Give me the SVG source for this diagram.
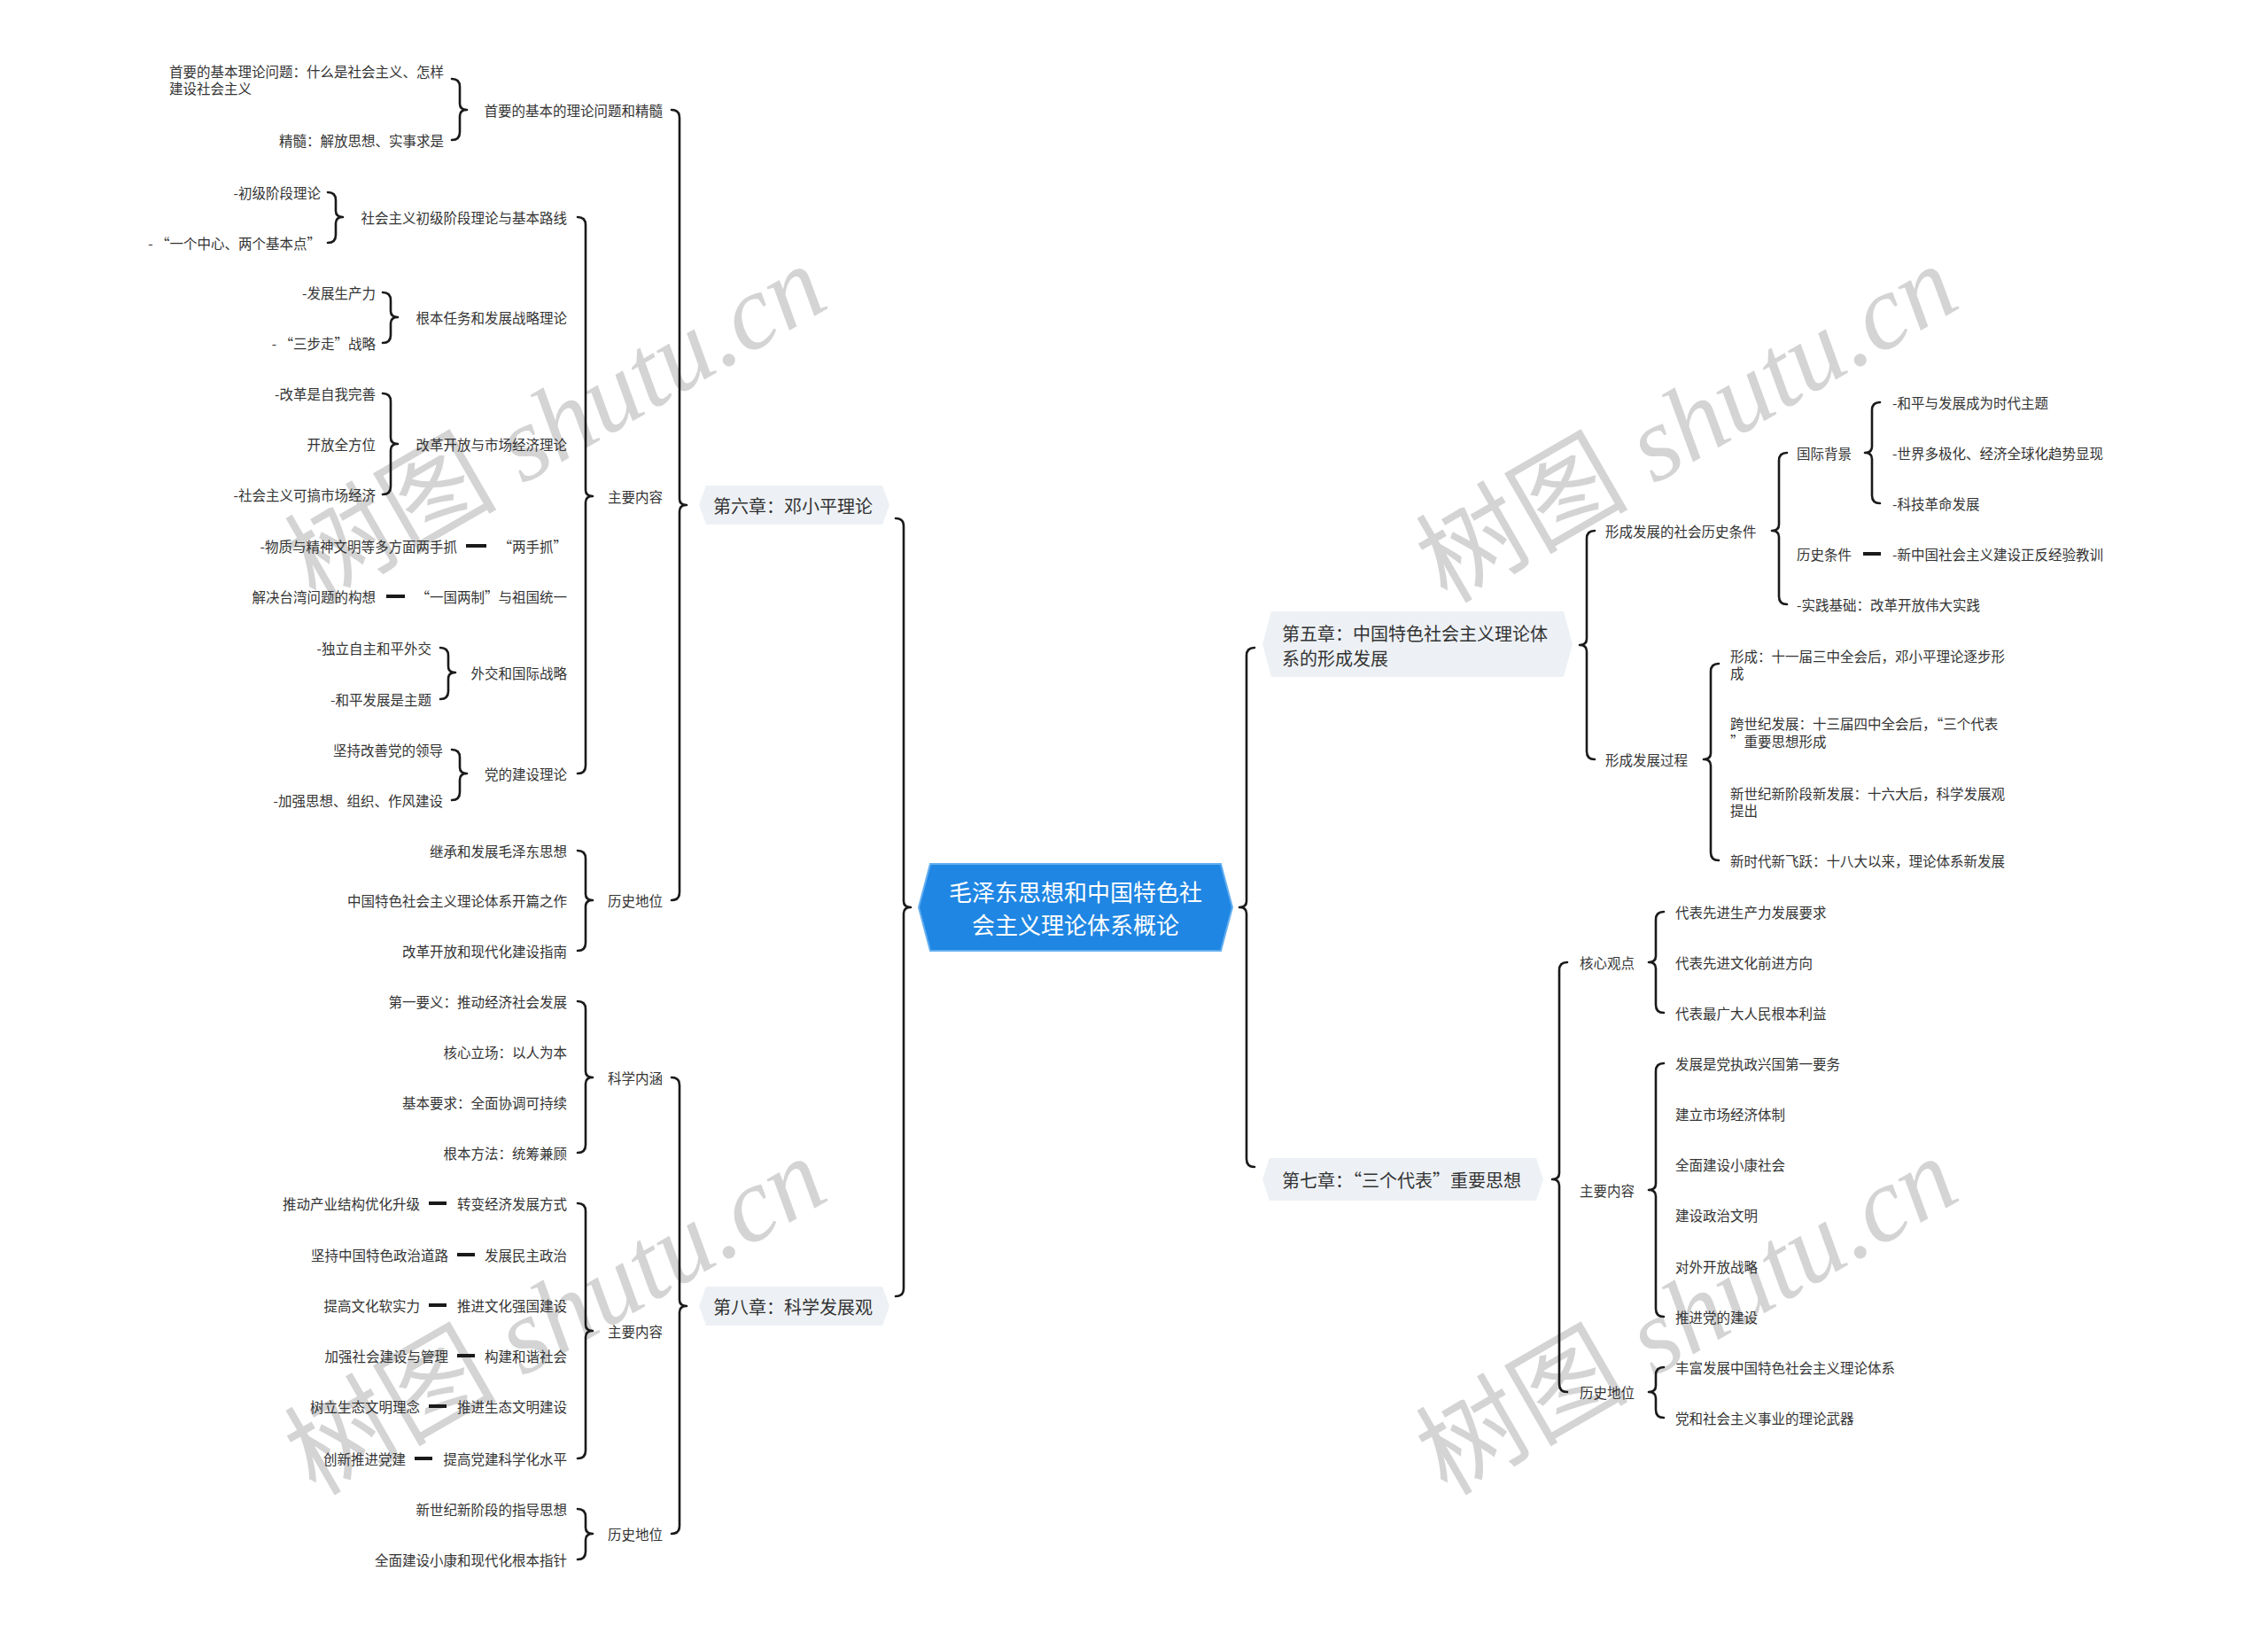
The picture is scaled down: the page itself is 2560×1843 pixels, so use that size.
<svg xmlns="http://www.w3.org/2000/svg" width="2560" height="1843" viewBox="0 0 2560 1843">
<style>
.t{font-family:"Noto Sans CJK SC","Noto Sans",sans-serif;font-size:15.5px;fill:#333;dominant-baseline:central}
.e{text-anchor:end}
.ch{font-family:"Noto Sans CJK SC","Noto Sans",sans-serif;font-size:20px;fill:#333;dominant-baseline:central}
.rt{font-family:"Noto Sans CJK SC","Noto Sans",sans-serif;font-size:26px;fill:#fff;dominant-baseline:central;text-anchor:middle}
.br{fill:none;stroke:#1a1a1a;stroke-width:2.6;stroke-linecap:round;stroke-linejoin:round}
.d{stroke:#1a1a1a;stroke-width:4}
.nd{fill:#edf1f5}
.wm{font-size:120px;fill:#d4d4d4}
.wc{font-family:"Noto Sans CJK SC",sans-serif}
.ws{font-family:"Liberation Serif",serif;font-style:italic}
</style>
<g id="watermarks">
<text class="wm" transform="translate(356,682) rotate(-30)"><tspan class="wc">树图</tspan><tspan class="ws"> shutu.cn</tspan></text>
<text class="wm" transform="translate(356,1689) rotate(-30)"><tspan class="wc">树图</tspan><tspan class="ws"> shutu.cn</tspan></text>
<text class="wm" transform="translate(1633,682) rotate(-30)"><tspan class="wc">树图</tspan><tspan class="ws"> shutu.cn</tspan></text>
<text class="wm" transform="translate(1633,1689) rotate(-30)"><tspan class="wc">树图</tspan><tspan class="ws"> shutu.cn</tspan></text>
</g>
<g id="connectors">
<path class="br" d="M1011,585 Q1020,585 1020,594 V1017 Q1020,1024 1028,1024 Q1020,1024 1020,1031 V1454 Q1020,1463 1011,1463"/>
<path class="br" d="M758,124 Q767,124 767,133 V563 Q767,570 775,570 Q767,570 767,577 V1007 Q767,1016 758,1016"/>
<path class="br" d="M758,1216 Q767,1216 767,1225 V1467 Q767,1474 775,1474 Q767,1474 767,1481 V1722 Q767,1731 758,1731"/>
<path class="br" d="M510,89 Q519,89 519,98 V117 Q519,124 527,124 Q519,124 519,131 V149 Q519,158 510,158"/>
<path class="br" d="M652,245 Q661,245 661,254 V553 Q661,560 669,560 Q661,560 661,567 V864 Q661,873 652,873"/>
<path class="br" d="M652,960 Q661,960 661,969 V1009 Q661,1016 669,1016 Q661,1016 661,1023 V1064 Q661,1073 652,1073"/>
<path class="br" d="M370,217 Q379,217 379,226 V238 Q379,245 387,245 Q379,245 379,252 V265 Q379,274 370,274"/>
<path class="br" d="M432,330 Q441,330 441,339 V351 Q441,358 449,358 Q441,358 441,365 V378 Q441,387 432,387"/>
<path class="br" d="M432,444 Q441,444 441,453 V494 Q441,501 449,501 Q441,501 441,508 V549 Q441,558 432,558"/>
<path class="br" d="M497,731 Q506,731 506,740 V752 Q506,759 514,759 Q506,759 506,766 V780 Q506,789 497,789"/>
<path class="br" d="M510,846 Q519,846 519,855 V866 Q519,873 527,873 Q519,873 519,880 V894 Q519,903 510,903"/>
<path class="br" d="M652,1130 Q661,1130 661,1139 V1209 Q661,1216 669,1216 Q661,1216 661,1223 V1292 Q661,1301 652,1301"/>
<path class="br" d="M652,1358 Q661,1358 661,1367 V1495 Q661,1502 669,1502 Q661,1502 661,1509 V1637 Q661,1646 652,1646"/>
<path class="br" d="M652,1703 Q661,1703 661,1712 V1724 Q661,1731 669,1731 Q661,1731 661,1738 V1751 Q661,1760 652,1760"/>
<path class="br" d="M1416,731 Q1407,731 1407,740 V1017 Q1407,1024 1399,1024 Q1407,1024 1407,1031 V1308 Q1407,1317 1416,1317"/>
<path class="br" d="M1800,599 Q1791,599 1791,608 V721 Q1791,728 1783,728 Q1791,728 1791,735 V848 Q1791,857 1800,857"/>
<path class="br" d="M1769,1086 Q1760,1086 1760,1095 V1324 Q1760,1331 1752,1331 Q1760,1331 1760,1338 V1562 Q1760,1571 1769,1571"/>
<path class="br" d="M2017,511 Q2008,511 2008,520 V592 Q2008,599 2000,599 Q2008,599 2008,606 V673 Q2008,682 2017,682"/>
<path class="br" d="M2122,454 Q2113,454 2113,463 V504 Q2113,511 2105,511 Q2113,511 2113,518 V559 Q2113,568 2122,568"/>
<path class="br" d="M1940,749 Q1931,749 1931,758 V850 Q1931,857 1923,857 Q1931,857 1931,864 V962 Q1931,971 1940,971"/>
<path class="br" d="M1878,1029 Q1869,1029 1869,1038 V1079 Q1869,1086 1861,1086 Q1869,1086 1869,1093 V1134 Q1869,1143 1878,1143"/>
<path class="br" d="M1878,1200 Q1869,1200 1869,1209 V1336 Q1869,1343 1861,1343 Q1869,1343 1869,1350 V1477 Q1869,1486 1878,1486"/>
<path class="br" d="M1878,1543 Q1869,1543 1869,1552 V1564 Q1869,1571 1861,1571 Q1869,1571 1869,1578 V1591 Q1869,1600 1878,1600"/>
<line class="d" x1="526" y1="616" x2="549" y2="616"/>
<line class="d" x1="436" y1="673" x2="457" y2="673"/>
<line class="d" x1="484" y1="1358" x2="504" y2="1358"/>
<line class="d" x1="516" y1="1416" x2="536" y2="1416"/>
<line class="d" x1="484" y1="1473" x2="504" y2="1473"/>
<line class="d" x1="516" y1="1530" x2="536" y2="1530"/>
<line class="d" x1="484" y1="1587" x2="504" y2="1587"/>
<line class="d" x1="468" y1="1646" x2="488" y2="1646"/>
<line class="d" x1="2103" y1="625" x2="2123" y2="625"/>
</g>
<g id="root">
<polygon points="1037,1024 1050,975 1378,975 1391,1024 1378,1073 1050,1073" fill="#1f86e3" stroke="#63aef0" stroke-width="2"/>
<text class="rt" x="1214" y="1005">毛泽东思想和中国特色社</text>
<text class="rt" x="1214" y="1042">会主义理论体系概论</text>
</g>
<g id="ch6">
<polygon class="nd" points="789,570 797,548 996,548 1004,570 996,592 797,592"/>
<text class="ch" x="805" y="570">第六章：邓小平理论</text>
</g>
<g id="ch8">
<polygon class="nd" points="789,1474 797,1452 996,1452 1004,1474 996,1496 797,1496"/>
<text class="ch" x="805" y="1474">第八章：科学发展观</text>
</g>
<g id="ch5">
<polygon class="nd" points="1425,727 1435,690 1765,690 1775,727 1765,764 1435,764"/>
<text class="ch" x="1447" y="714">第五章：中国特色社会主义理论体</text>
<text class="ch" x="1447" y="742">系的形成发展</text>
</g>
<g id="ch7">
<polygon class="nd" points="1425,1331 1433,1307 1734,1307 1742,1331 1734,1355 1433,1355"/>
<text class="ch" x="1447" y="1331">第七章：“三个代表”重要思想</text>
</g>
<g id="ch6-items">
<text class="t" x="191" y="80">首要的基本理论问题：什么是社会主义、怎样</text>
<text class="t" x="191" y="99">建设社会主义</text>
<text class="t e" x="501" y="158">精髓：解放思想、实事求是</text>
<text class="t e" x="748" y="124">首要的基本的理论问题和精髓</text>
<text class="t e" x="362" y="217">-初级阶段理论</text>
<text class="t e" x="362" y="274">- “一个中心、两个基本点”</text>
<text class="t e" x="640" y="245">社会主义初级阶段理论与基本路线</text>
<text class="t e" x="424" y="330">-发展生产力</text>
<text class="t e" x="424" y="387">- “三步走”战略</text>
<text class="t e" x="640" y="358">根本任务和发展战略理论</text>
<text class="t e" x="424" y="444">-改革是自我完善</text>
<text class="t e" x="424" y="501">开放全方位</text>
<text class="t e" x="424" y="558">-社会主义可搞市场经济</text>
<text class="t e" x="640" y="501">改革开放与市场经济理论</text>
<text class="t e" x="516" y="616">-物质与精神文明等多方面两手抓</text>
<text class="t e" x="640" y="616">“两手抓”</text>
<text class="t e" x="424" y="673">解决台湾问题的构想</text>
<text class="t e" x="640" y="673">“一国两制”与祖国统一</text>
<text class="t e" x="487" y="731">-独立自主和平外交</text>
<text class="t e" x="487" y="789">-和平发展是主题</text>
<text class="t e" x="640" y="759">外交和国际战略</text>
<text class="t e" x="500" y="846">坚持改善党的领导</text>
<text class="t e" x="500" y="903">-加强思想、组织、作风建设</text>
<text class="t e" x="640" y="873">党的建设理论</text>
<text class="t e" x="748" y="560">主要内容</text>
<text class="t e" x="640" y="960">继承和发展毛泽东思想</text>
<text class="t e" x="640" y="1016">中国特色社会主义理论体系开篇之作</text>
<text class="t e" x="640" y="1073">改革开放和现代化建设指南</text>
<text class="t e" x="748" y="1016">历史地位</text>
</g>
<g id="ch8-items">
<text class="t e" x="640" y="1130">第一要义：推动经济社会发展</text>
<text class="t e" x="640" y="1187">核心立场：以人为本</text>
<text class="t e" x="640" y="1244">基本要求：全面协调可持续</text>
<text class="t e" x="640" y="1301">根本方法：统筹兼顾</text>
<text class="t e" x="748" y="1216">科学内涵</text>
<text class="t e" x="474" y="1358">推动产业结构优化升级</text>
<text class="t e" x="640" y="1358">转变经济发展方式</text>
<text class="t e" x="506" y="1416">坚持中国特色政治道路</text>
<text class="t e" x="640" y="1416">发展民主政治</text>
<text class="t e" x="474" y="1473">提高文化软实力</text>
<text class="t e" x="640" y="1473">推进文化强国建设</text>
<text class="t e" x="506" y="1530">加强社会建设与管理</text>
<text class="t e" x="640" y="1530">构建和谐社会</text>
<text class="t e" x="474" y="1587">树立生态文明理念</text>
<text class="t e" x="640" y="1587">推进生态文明建设</text>
<text class="t e" x="458" y="1646">创新推进党建</text>
<text class="t e" x="640" y="1646">提高党建科学化水平</text>
<text class="t e" x="748" y="1502">主要内容</text>
<text class="t e" x="640" y="1703">新世纪新阶段的指导思想</text>
<text class="t e" x="640" y="1760">全面建设小康和现代化根本指针</text>
<text class="t e" x="748" y="1731">历史地位</text>
</g>
<g id="ch5-items">
<text class="t" x="1812" y="599">形成发展的社会历史条件</text>
<text class="t" x="2028" y="511">国际背景</text>
<text class="t" x="2136" y="454">-和平与发展成为时代主题</text>
<text class="t" x="2136" y="511">-世界多极化、经济全球化趋势显现</text>
<text class="t" x="2136" y="568">-科技革命发展</text>
<text class="t" x="2028" y="625">历史条件</text>
<text class="t" x="2136" y="625">-新中国社会主义建设正反经验教训</text>
<text class="t" x="2028" y="682">-实践基础：改革开放伟大实践</text>
<text class="t" x="1812" y="857">形成发展过程</text>
<text class="t" x="1953" y="740">形成：十一届三中全会后，邓小平理论逐步形</text>
<text class="t" x="1953" y="759">成</text>
<text class="t" x="1953" y="816">跨世纪发展：十三届四中全会后，“三个代表</text>
<text class="t" x="1953" y="836">”重要思想形成</text>
<text class="t" x="1953" y="895">新世纪新阶段新发展：十六大后，科学发展观</text>
<text class="t" x="1953" y="914">提出</text>
<text class="t" x="1953" y="971">新时代新飞跃：十八大以来，理论体系新发展</text>
</g>
<g id="ch7-items">
<text class="t" x="1783" y="1086">核心观点</text>
<text class="t" x="1891" y="1029">代表先进生产力发展要求</text>
<text class="t" x="1891" y="1086">代表先进文化前进方向</text>
<text class="t" x="1891" y="1143">代表最广大人民根本利益</text>
<text class="t" x="1783" y="1343">主要内容</text>
<text class="t" x="1891" y="1200">发展是党执政兴国第一要务</text>
<text class="t" x="1891" y="1257">建立市场经济体制</text>
<text class="t" x="1891" y="1314">全面建设小康社会</text>
<text class="t" x="1891" y="1371">建设政治文明</text>
<text class="t" x="1891" y="1429">对外开放战略</text>
<text class="t" x="1891" y="1486">推进党的建设</text>
<text class="t" x="1783" y="1571">历史地位</text>
<text class="t" x="1891" y="1543">丰富发展中国特色社会主义理论体系</text>
<text class="t" x="1891" y="1600">党和社会主义事业的理论武器</text>
</g>
</svg>
